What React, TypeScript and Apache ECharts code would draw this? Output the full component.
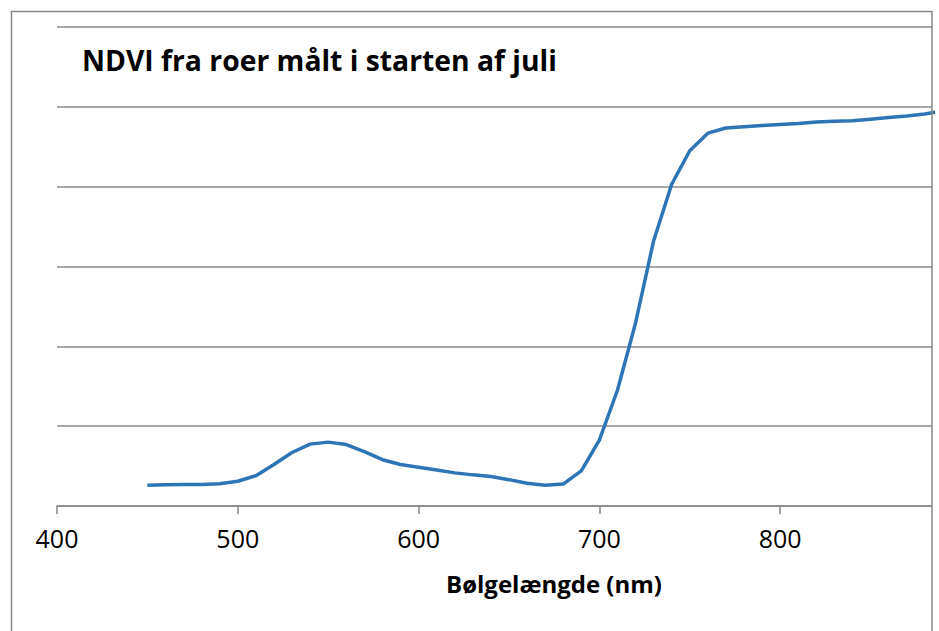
import React, { useEffect, useRef } from "react";
import * as echarts from "echarts";

const wavelengths = [450, 460, 470, 480, 490, 500, 510, 520, 530, 540, 550, 560, 570, 580, 590, 600, 610, 620, 630, 640, 650, 660, 670, 680, 690, 700, 710, 720, 730, 740, 750, 760, 770, 780, 790, 800, 810, 820, 830, 840, 850, 860, 870, 880, 890];
const ndvi = [2.6, 2.65, 2.7, 2.7, 2.8, 3.1, 3.8, 5.2, 6.7, 7.75, 8.0, 7.7, 6.8, 5.8, 5.2, 4.85, 4.5, 4.15, 3.9, 3.7, 3.3, 2.85, 2.6, 2.75, 4.4, 8.25, 14.5, 22.9, 33.2, 40.3, 44.5, 46.7, 47.35, 47.5, 47.65, 47.8, 47.9, 48.1, 48.2, 48.25, 48.45, 48.65, 48.85, 49.1, 49.5];
const yMax = 60;

const titleText = "NDVI fra roer målt i starten af juli";
const xAxisTitle = "Bølgelængde (nm)";

export default function App() {
  const ref = useRef<HTMLDivElement>(null);
  useEffect(() => {
    if (!ref.current) return;
    const chart = echarts.init(ref.current, null, { renderer: "svg" });
    const font = "'Open Sans', 'Noto Sans', sans-serif";
    chart.setOption({
      animation: false,
      backgroundColor: "#ffffff",
      grid: { left: 57, right: 7, top: 27, bottom: 125 },
      xAxis: {
        type: "value",
        min: 400,
        max: 884,
        interval: 100,
        axisLine: { show: true, lineStyle: { color: "#868686", width: 1.5 } },
        axisTick: { show: true, length: 8, lineStyle: { color: "#868686", width: 1.5 } },
        axisLabel: { color: "#000", fontSize: 25, fontFamily: font, margin: 19, showMaxLabel: false },
        splitLine: { show: false },
      },
      yAxis: {
        type: "value",
        min: 0,
        max: yMax,
        interval: 10,
        axisLine: { show: false },
        axisTick: { show: false },
        axisLabel: { show: false },
        splitLine: { show: true, showMinLine: true, showMaxLine: true, lineStyle: { color: "#8a8a8a", width: 1.5 } },
      },
      series: [
        {
          type: "line",
          data: wavelengths.map((w, i) => [w, ndvi[i]]),
          showSymbol: false,
          clip: true,
          lineStyle: { color: "#2E75B6", width: 3.5 },
          itemStyle: { color: "#2E75B6" },
        },
      ],
      graphic: [
        {
          type: "rect",
          shape: { x: 11.5, y: 11.5, width: 920.5, height: 700 },
          style: { fill: "none", stroke: "#868686", lineWidth: 1.5 },
          silent: true,
          z: 10,
        },
        {
          type: "text",
          left: 82,
          top: 46,
          style: { text: titleText, font: `bold 28.3px ${font}`, fill: "#000" },
          z: 10,
        },
        {
          type: "text",
          x: 554,
          y: 583,
          style: { text: xAxisTitle, font: `bold 24px ${font}`, fill: "#000", textAlign: "center", textVerticalAlign: "middle" },
          z: 10,
        },
      ],
    });
    return () => chart.dispose();
  }, []);
  return <div ref={ref} style={{ position: "fixed", left: 0, top: 0, width: 939, height: 631 }} />;
}
